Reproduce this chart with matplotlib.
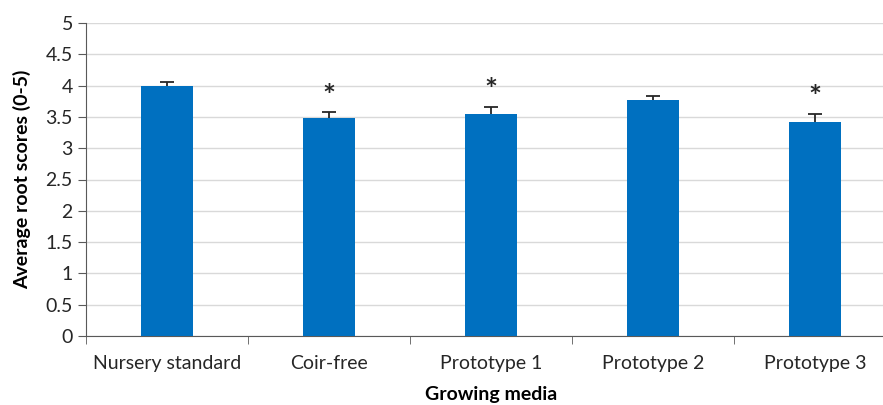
import numpy as np
import matplotlib.pyplot as plt
from matplotlib.ticker import FixedLocator

# Root score means and standard errors per growing medium
media = ['Nursery standard', 'Coir-free', 'Prototype 1', 'Prototype 2', 'Prototype 3']
root_scores = [4.00, 3.48, 3.54, 3.77, 3.42]
std_errors = [0.06, 0.10, 0.12, 0.07, 0.13]
significant = [False, True, True, False, True]
y_ticks = [0, 0.5, 1, 1.5, 2, 2.5, 3, 3.5, 4, 4.5, 5]

plt.rcParams['font.family'] = ['Lato', 'DejaVu Sans']

fig = plt.figure(figsize=(8.83, 4.05), dpi=100)
ax = fig.add_axes([86 / 883, 69 / 405, 810 / 883, 313 / 405])

x = np.arange(len(media))
ax.bar(x, root_scores, width=0.32, color='#0070C0', zorder=3)
# error bars sit behind the bars so only the upper half shows
ax.errorbar(x, root_scores, yerr=std_errors, fmt='none',
            ecolor='#262626', elinewidth=1.3, capsize=5, capthick=1.3, zorder=2.5)

# Asterisks above the bars that differ from the nursery standard
for xi, val, err, sig in zip(x, root_scores, std_errors, significant):
    if sig:
        ax.annotate('*', (xi, val + err), textcoords='offset points', xytext=(0, 1),
                    ha='center', va='bottom', fontsize=22, fontweight='bold',
                    color='#262626')

ax.set_xlim(-0.5, len(media) - 0.5)
ax.set_ylim(0, 5)
ax.set_yticks(y_ticks)
ax.set_yticklabels([f'{v:g}' for v in y_ticks])
ax.grid(axis='y', color='#D9D9D9', linewidth=1, zorder=0)

ax.set_xticks(x)
ax.set_xticklabels(media)
ax.xaxis.set_minor_locator(FixedLocator(np.arange(-0.5, len(media), 1.0)))
ax.tick_params(axis='x', which='major', length=0, pad=14, labelsize=14, colors='#262626')
ax.tick_params(axis='x', which='minor', length=6, color='#595959')
ax.tick_params(axis='y', length=6, color='#595959', labelsize=14, labelcolor='#262626')

for side in ['top', 'right']:
    ax.spines[side].set_visible(False)
for side in ['left', 'bottom']:
    ax.spines[side].set_color('#595959')

ax.set_xlabel('Growing media', fontsize=14, fontweight='bold', labelpad=10)
ax.set_ylabel('Average root scores (0-5)', fontsize=14, fontweight='bold', labelpad=10)

fig.savefig('out.png', dpi=100)
